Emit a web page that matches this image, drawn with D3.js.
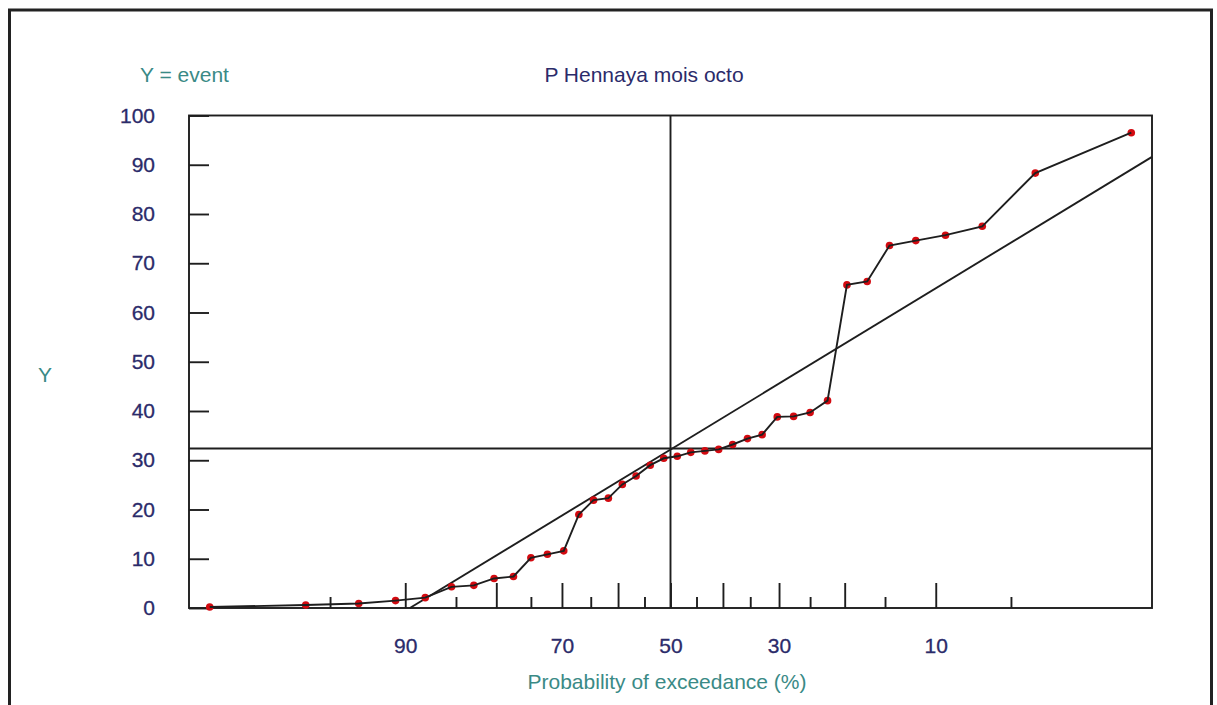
<!DOCTYPE html>
<html>
<head>
    <title>P Hennaya mois octo</title>
    <meta charset="utf-8">
    <script src="https://d3js.org/d3.v7.min.js"></script>
    <style>
        body {
            margin: 0;
            background: white;
        }
        svg {
            display: block;
            font-family: Arial, 'Liberation Sans', sans-serif;
        }
        .navy {
            fill: #2b2b6a;
        }
        .teal {
            fill: #3a8a86;
        }
    </style>
</head>
<body>
    <svg width="1217" height="705"></svg>

<script>

    // exceedance probability (%) of each ranked event
    let exceedance = [98.7, 96.1, 93.4, 90.8, 88.2, 85.5, 82.9, 80.3, 77.6, 75.0,
        72.4, 69.7, 67.1, 64.5, 61.8, 59.2, 56.6, 53.9, 51.3, 48.7,
        46.1, 43.4, 40.8, 38.2, 35.5, 32.9, 30.3, 27.6, 25.0, 22.4,
        19.7, 17.1, 14.5, 11.8, 9.2, 6.6, 3.9, 1.3]

    let values = [0.2, 0.6, 0.9, 1.5, 2.1, 4.3, 4.6, 6.0, 6.4, 10.2,
        10.9, 11.6, 19.0, 21.9, 22.3, 25.1, 26.8, 29.0, 30.4, 30.8,
        31.6, 31.9, 32.2, 33.2, 34.4, 35.2, 38.8, 38.9, 39.7, 42.1,
        65.6, 66.3, 73.6, 74.6, 75.7, 77.5, 88.3, 96.5]

    // fitted line endpoints
    let fitP = [89.6, 1]
    let fitY = [0, 91.6]

    // cross lines (median probability, mean value)
    let medianP = 50
    let meanY = 32.4

    let yTicks = [0, 10, 20, 30, 40, 50, 60, 70, 80, 90, 100]
    let majorTicks = [90, 80, 70, 60, 50, 40, 30, 20, 10]
    let majorLabels = ["90", "", "70", "", "50", "", "30", "", "10"]
    let minorTicks = [95, 85, 75, 65, 55, 45, 35, 25, 15, 5]
    let pLimits = [99, 1]

    // inverse normal cdf (Acklam)
    function probit(p) {
        let a = [-39.69683028665376, 220.9460984245205, -275.9285104469687, 138.3577518672690, -30.66479806614716, 2.506628277459239]
        let b = [-54.47609879822406, 161.5858368580409, -155.6989798598866, 66.80131188771972, -13.28068155288572]
        let c = [-0.007784894002430293, -0.3223964580411365, -2.400758277161838, -2.549732539343734, 4.374664141464968, 2.938163982698783]
        let d = [0.007784695709041462, 0.3224671290700398, 2.445134137142996, 3.754408661907416]
        let pl = 0.02425, q, r
        if (p < pl) {
            q = Math.sqrt(-2 * Math.log(p))
            return (((((c[0]*q+c[1])*q+c[2])*q+c[3])*q+c[4])*q+c[5]) / ((((d[0]*q+d[1])*q+d[2])*q+d[3])*q+1)
        }
        if (p > 1 - pl) {
            q = Math.sqrt(-2 * Math.log(1 - p))
            return -(((((c[0]*q+c[1])*q+c[2])*q+c[3])*q+c[4])*q+c[5]) / ((((d[0]*q+d[1])*q+d[2])*q+d[3])*q+1)
        }
        q = p - 0.5
        r = q * q
        return (((((a[0]*r+a[1])*r+a[2])*r+a[3])*r+a[4])*r+a[5])*q / (((((b[0]*r+b[1])*r+b[2])*r+b[3])*r+b[4])*r+1)
    }

    // probability of exceedance -> normal variate (left = high exceedance)
    let zOf = p => probit(1 - p / 100)

    let margin = { top: 115.5, right: 65, bottom: 97, left: 189 }
    let W = 1217, H = 705
    let ink = "#1e1e1e"
    let lw = 1.9

    let svg = d3.select("body").select("svg")

    let x = d3.scaleLinear()
        .domain(pLimits.map(zOf))
        .range([margin.left, W - margin.right])

    let y = d3.scaleLinear()
        .domain([0, 100])
        .range([H - margin.bottom, margin.top])

    let px = p => x(zOf(p))

    // outer frame
    svg.append("rect")
        .attr("x", 9.5)
        .attr("y", 10)
        .attr("width", 1202)
        .attr("height", 760)
        .style("fill", "none")
        .style("stroke", "#222")
        .style("stroke-width", 3)

    // plot box
    svg.append("rect")
        .attr("x", x.range()[0])
        .attr("y", y(100))
        .attr("width", x.range()[1] - x.range()[0])
        .attr("height", y(0) - y(100))
        .style("fill", "none")
        .style("stroke", ink)
        .style("stroke-width", lw)

    // y axis
    let yAxis = svg.append("g")
        .attr("transform", `translate(${x.range()[0]},0)`)
        .call(d3.axisLeft(y).tickValues(yTicks).tickSizeInner(-20).tickSizeOuter(0).tickPadding(34))

    yAxis.select(".domain").remove()
    yAxis.selectAll("line").style("stroke", ink).style("stroke-width", lw)
    yAxis.selectAll("text")
        .attr("class", "navy")
        .style("font-size", "21px")
        .style("font-family", "Arial, 'Liberation Sans', sans-serif")
        .style("stroke", "#2b2b6a")
        .style("stroke-width", 0.3)

    // x axis, major ticks with labels
    let xMajor = svg.append("g")
        .attr("transform", `translate(0,${y(0)})`)
        .call(d3.axisBottom(x)
            .tickValues(majorTicks.map(zOf))
            .tickFormat((d, i) => majorLabels[i])
            .tickSizeInner(-25).tickSizeOuter(0).tickPadding(30))

    // x axis, minor ticks
    let xMinor = svg.append("g")
        .attr("transform", `translate(0,${y(0)})`)
        .call(d3.axisBottom(x)
            .tickValues(minorTicks.map(zOf))
            .tickFormat("")
            .tickSizeInner(-11).tickSizeOuter(0))

    svg.selectAll(".domain").remove()
    xMajor.selectAll("line").style("stroke", ink).style("stroke-width", lw)
    xMinor.selectAll("line").style("stroke", ink).style("stroke-width", lw)
    xMajor.selectAll("text")
        .attr("class", "navy")
        .style("font-size", "21px")
        .style("font-family", "Arial, 'Liberation Sans', sans-serif")
        .style("stroke", "#2b2b6a")
        .style("stroke-width", 0.3)

    // median / mean cross lines
    svg.append("line")
        .attr("x1", px(medianP)).attr("x2", px(medianP))
        .attr("y1", y(100)).attr("y2", y(0))
        .style("stroke", ink).style("stroke-width", lw)

    svg.append("line")
        .attr("x1", x.range()[0]).attr("x2", x.range()[1])
        .attr("y1", y(meanY)).attr("y2", y(meanY))
        .style("stroke", ink).style("stroke-width", lw)

    // fitted line
    svg.append("line")
        .attr("x1", px(fitP[0])).attr("y1", y(fitY[0]))
        .attr("x2", px(fitP[1])).attr("y2", y(fitY[1]))
        .style("stroke", ink).style("stroke-width", lw)

    let pts = exceedance.map((p, i) => ({ p: p, v: values[i] }))

    // event points
    svg.append("g")
        .selectAll("circle")
        .data(pts)
        .join("circle")
        .attr("cx", d => px(d.p))
        .attr("cy", d => y(d.v))
        .attr("r", 3.8)
        .style("fill", "#d30a10")

    let line = d3.line()
        .x(d => px(d.p))
        .y(d => y(d.v))

    svg.append("path")
        .datum(pts)
        .attr("d", line)
        .style("fill", "none")
        .style("stroke", ink)
        .style("stroke-width", lw)

    // texts
    svg.append("text").text("Y = event")
        .attr("class", "teal")
        .attr("x", 140)
        .attr("y", 82)
        .style("font-size", "21px")

    svg.append("text").text("P Hennaya mois octo")
        .attr("class", "navy")
        .attr("x", 644)
        .attr("y", 82)
        .attr("text-anchor", "middle")
        .style("font-size", "21px")

    svg.append("text").text("Y")
        .attr("class", "teal")
        .attr("x", 38)
        .attr("y", 382)
        .style("font-size", "21px")

    svg.append("text").text("Probability of exceedance (%)")
        .attr("class", "teal")
        .attr("x", 667)
        .attr("y", 689)
        .attr("text-anchor", "middle")
        .style("font-size", "21px")

</script>
</body>
</html>
